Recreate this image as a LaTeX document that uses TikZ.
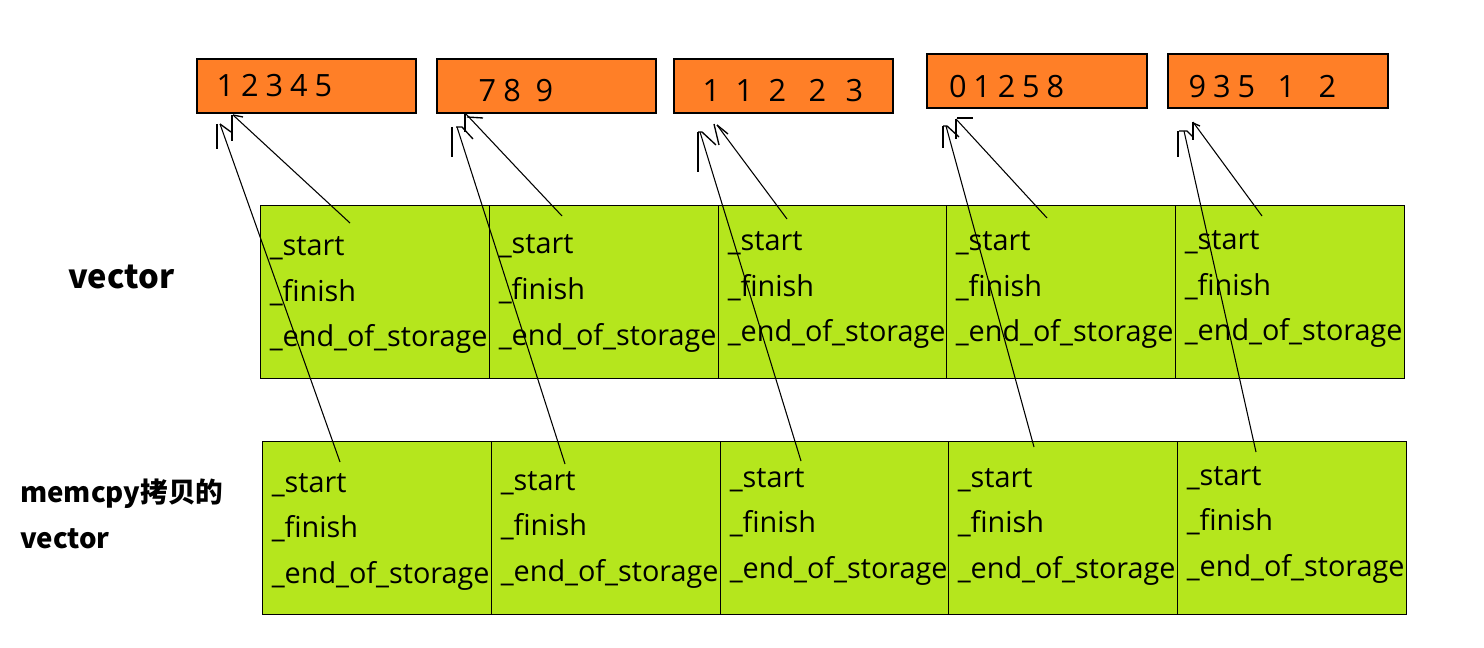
\documentclass[tikz,border=0pt]{standalone}
\usepackage{fontspec}
\setmainfont{Open Sans}
\newfontfamily\cjkfont{Noto Sans CJK SC}
\definecolor{orangefill}{RGB}{255,127,39}
\definecolor{limefill}{RGB}{181,230,29}
\newcommand\dg[1]{\makebox[0pt]{#1}}
\tikzset{
  obox/.style={draw=black, fill=orangefill, line width=1.1pt, inner sep=0pt, minimum height=40.5pt},
  cellbox/.style={draw=black, fill=limefill, line width=1.1pt, inner sep=0pt, anchor=north west,
                  minimum width=171.75pt, minimum height=129.75pt},
  fld/.style={anchor=base west, inner sep=0pt, font=\fontsize{21.6}{25}\selectfont},
  digits/.style={anchor=base west, inner sep=0pt, font=\fontsize{23}{27}\selectfont},
  biglabel/.style={anchor=base west, inner sep=0pt, font=\cjkfont\bfseries\fontsize{24.5}{30}\selectfont},
  smalllabel/.style={anchor=base west, inner sep=0pt, font=\cjkfont\bfseries\fontsize{20.7}{25}\selectfont},
  hand/.style={draw=black, line width=0.8pt},
  handtip/.style={draw=black, line width=1pt},
}
\begin{document}
\begin{tikzpicture}[x=0.75pt, y=-0.75pt]
\useasboundingbox (0,0) rectangle (1484,648);

% orange boxes
\node[obox, minimum width=164.25pt] (o1) at (306.5,86) {};
\node[obox, minimum width=164.25pt] (o2) at (546.5,86) {};
\node[obox, minimum width=164.25pt] (o3) at (783.5,86) {};
\node[obox, minimum width=165pt] (o4) at (1037,81) {};
\node[obox, minimum width=165pt] (o5) at (1278,81) {};

\node[digits] (d1) at (225,97) {\spaceskip=18.4pt plus 0pt minus 0pt \dg{1} \dg{2} \dg{3} \dg{4} \dg{5}};
\node[digits] (d2) at (487,102) {\spaceskip=18.75pt plus 0pt minus 0pt \dg{7} \dg{8}\hspace{5.25pt} \dg{9}};
\node[digits] (d3) at (711,102) {\spaceskip=24.75pt plus 0pt minus 0pt \dg{1} \dg{1} \dg{2}\hspace{5.25pt} \dg{2}\hspace{3pt} \dg{3}};
\node[digits] (d4) at (957.5,98) {\spaceskip=18.3pt plus 0pt minus 0pt \dg{0} \dg{1} \dg{2} \dg{5} \dg{8}};
\node[digits] (d5) at (1197,98) {\spaceskip=18.4pt plus 0pt minus 0pt \dg{9} \dg{3} \dg{5}\hspace{11.6pt} \dg{1}\hspace{12.3pt} \dg{2}};

% top row of vectors
\foreach \i/\x/\b in {1/260/256, 2/489/254, 3/718/251, 4/946/251, 5/1175/250} {
  \node[cellbox] (top\i) at (\x,205) {};
  \node[fld] (top\i s) at (\x+9.5,\b) {\_start};
  \node[fld] (top\i f) at (\x+9.5,\b+45.5) {\_finish};
  \node[fld] (top\i e) at (\x+9.5,\b+91) {\_end\_of\_storage};
}
% bottom row of vectors
\foreach \i/\x/\b in {1/262/492, 2/491/490, 3/720/487, 4/948/487, 5/1177/485} {
  \node[cellbox] (bot\i) at (\x,441) {};
  \node[fld] (bot\i s) at (\x+9.5,\b) {\_start};
  \node[fld] (bot\i f) at (\x+9.5,\b+45.5) {\_finish};
  \node[fld] (bot\i e) at (\x+9.5,\b+91) {\_end\_of\_storage};
}

% labels
\node[biglabel] (lv) at (68,289) {vector};
\node[smalllabel] (lm1) at (20,502) {memcpy拷贝的};
\node[smalllabel] (lm2) at (20,548) {vector};

% arrow end points
\coordinate (sa1) at (350,223);  \coordinate (ta1) at (233,115);
\coordinate (sb1) at (340,462);  \coordinate (tb1) at (220,124);
\coordinate (sa2) at (562,216);  \coordinate (ta2) at (466,114);
\coordinate (sb2) at (565,464);  \coordinate (tb2) at (457,127);
\coordinate (sa3) at (787,219);  \coordinate (ta3) at (717,125);
\coordinate (sb3) at (801,461);  \coordinate (tb3) at (700,132);
\coordinate (sa4) at (1047,218); \coordinate (ta4) at (956,119);
\coordinate (sb4) at (1034,447); \coordinate (tb4) at (946,126);
\coordinate (sa5) at (1262,216); \coordinate (ta5) at (1193,122);
\coordinate (sb5) at (1256,452); \coordinate (tb5) at (1184,131);

% connectors
\foreach \k in {1,...,5} {
  \draw[hand] (sa\k) -- (ta\k);
  \draw[hand] (sb\k) -- (tb\k);
}

% hand-drawn arrow heads
\draw[handtip] (ta1) ++(-1,0) -- ++(0,26);
\draw[handtip] (ta1) -- ++(10,2);
\draw[handtip] (tb1) ++(-3,0) -- ++(0,25);
\draw[handtip] (tb1) -- ++(11,8);

\draw[handtip] (ta2) ++(-1,0) -- ++(0,18);
\draw[handtip] (ta2) ++(1,3) -- ++(16,1);
\draw[handtip] (tb2) ++(-5,0) -- ++(0,30);
\draw[handtip] (tb2) ++(-1,0) -- ++(6,0) -- ++(11,12);

\draw[handtip] (ta3) ++(-3,-1) -- ++(5,21);
\draw[handtip] (ta3) -- ++(11,9);
\draw[handtip] (tb3) ++(-2,0) -- ++(0,40);
\draw[handtip] (tb3) ++(-2,0) -- ++(4,0) -- ++(14,13);

\draw[handtip] (ta4) -- ++(0,20);
\draw[handtip] (ta4) ++(1,-1) -- ++(16,0);
\draw[handtip] (tb4) ++(-3,0) -- ++(0,22);
\draw[handtip] (tb4) ++(-3,0) -- ++(4,0) -- ++(12,11);

\draw[handtip] (ta5) -- ++(0,18);
\draw[handtip] (ta5) ++(0,1) -- ++(7,3);
\draw[handtip] (tb5) ++(-6,0) -- ++(0,26);
\draw[handtip] (tb5) ++(-5,0) -- ++(8,0) -- ++(6,6);
\end{tikzpicture}
\end{document}
